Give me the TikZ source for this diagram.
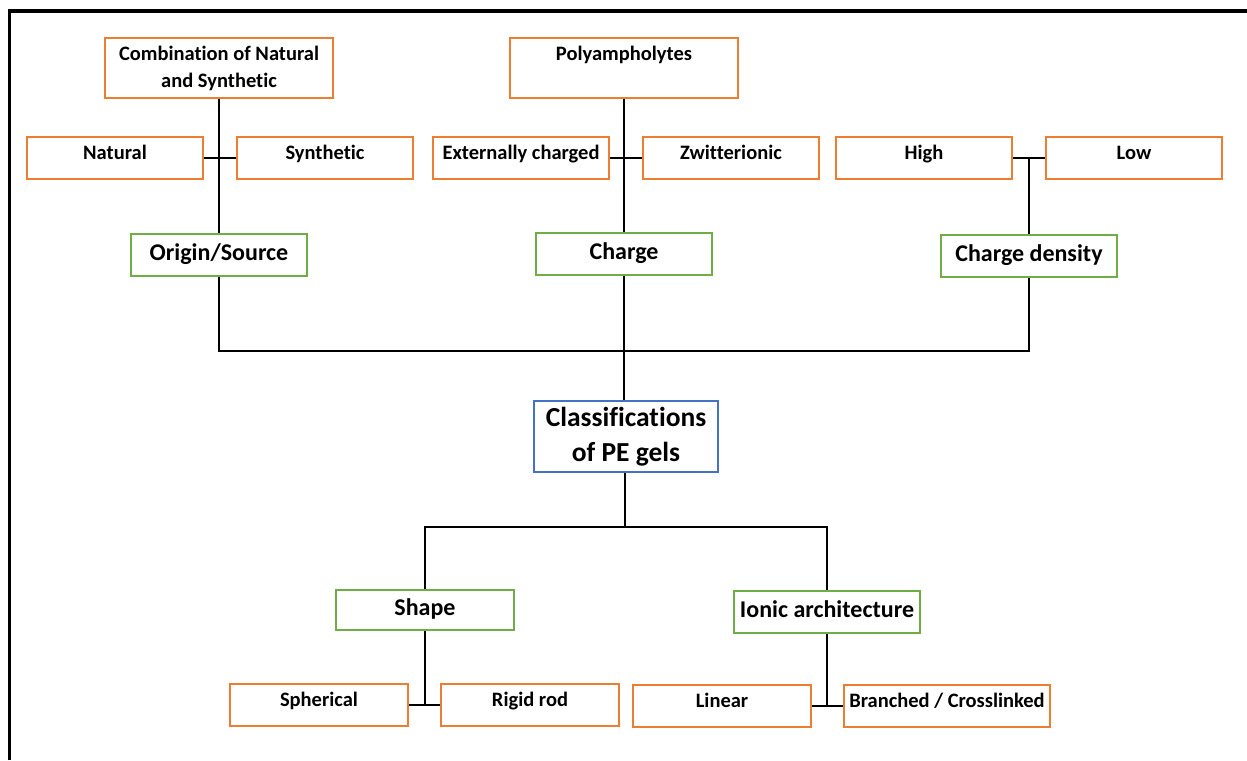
\documentclass[tikz,border=0pt]{standalone}
\usepackage{fontspec}
\setmainfont{Carlito}[Ligatures=NoCommon]
\usetikzlibrary{calc}
\definecolor{boxorange}{HTML}{ED7D31}
\definecolor{boxgreen}{HTML}{70AD47}
\definecolor{boxblue}{HTML}{4472C4}
\begin{document}
\begin{tikzpicture}[x=1pt,y=-1pt,
  base/.style={draw,rectangle,inner sep=0pt,line width=2pt,fill=white,align=center,font=\bfseries\fontsize{20.5}{27}\selectfont},
  leaf/.style={base,draw=boxorange,minimum width=176pt,minimum height=42pt,text height=12pt,text depth=9pt},
  topbox/.style={base,draw=boxorange,minimum width=228pt,minimum height=59pt},
  cat/.style={base,draw=boxgreen,minimum width=176pt,minimum height=41pt,text height=16pt,text depth=6pt,font=\bfseries\fontsize{24}{28}\selectfont},
  root/.style={base,draw=boxblue,minimum width=184pt,minimum height=71pt,font=\bfseries\fontsize{27.5}{35}\selectfont},
  conn/.style={draw=black,line width=1.6pt}
]
\useasboundingbox (0,0) rectangle (1247,760);
\draw[line width=3.5pt] (9.5,760) -- (9.5,11) -- (1247,11);

% top left group
\node[topbox] (comb) at (219,68) {Combination of Natural\\and Synthetic};
\node[leaf] (nat) at (115,158) {Natural};
\node[leaf] (syn) at (325,158) {Synthetic};
\node[cat,minimum height=42pt] (orig) at (219,255) {Origin/Source};

% top middle group
\node[topbox,text height=14pt,text depth=29pt] (poly) at (624,68) {Polyampholytes};
\node[leaf] (ext) at (521,158) {Externally charged};
\node[leaf] (zwit) at (731,158) {Zwitterionic};
\node[cat,minimum height=42pt] (charge) at (624,254) {Charge};

% top right group
\node[leaf] (high) at (924,158) {High};
\node[leaf] (low) at (1134,158) {Low};
\node[cat,minimum height=42pt] (cdens) at (1029,256) {Charge density};

% root
\node[root] (cls) at (626,436.5) {Classifications\\of PE gels};

% bottom
\node[cat,minimum width=178pt,minimum height=40pt] (shape) at (425,610) {Shape};
\node[cat,minimum width=186pt,minimum height=42pt] (ionic) at (827,612) {Ionic architecture};
\node[leaf,minimum width=178pt] (sph) at (319,705) {Spherical};
\node[leaf,minimum width=178pt] (rod) at (530,705) {Rigid rod};
\node[leaf,minimum width=178pt] (lin) at (722,706) {Linear};
\node[leaf,minimum width=206pt] (bran) at (947,706) {Branched / Crosslinked};

% connectors top
\draw[conn] (comb.south) -- (orig.north);
\draw[conn] (nat.east) -- (syn.west);
\draw[conn] (poly.south) -- (charge.north);
\draw[conn] (ext.east) -- (zwit.west);
\draw[conn] (high.east) -- (low.west);
\coordinate (hl) at ($(high.east)!0.5!(low.west)$);
\draw[conn] (hl) -- (hl |- cdens.north);

% bus to root
\coordinate (busl) at (219,351);
\draw[conn] (orig.south) -- (busl) -- (busl -| cdens.south) -- (cdens.south);
\draw[conn] (charge.south) -- (charge.south |- cls.north);

% root to bottom
\coordinate (bus2) at (625,527);
\draw[conn] (bus2 |- cls.south) -- (bus2);
\draw[conn] (shape.north) -- (shape.north |- bus2) -- (ionic.north |- bus2) -- (ionic.north);

\coordinate (sr) at ($(sph.east)!0.5!(rod.west)$);
\draw[conn] (sph.east) -- (rod.west);
\draw[conn] (shape.south) -- (shape.south |- sr);
\coordinate (lb) at ($(lin.east)!0.5!(bran.west)$);
\draw[conn] (lin.east) -- (bran.west);
\draw[conn] (ionic.south) -- (ionic.south |- lb);
\end{tikzpicture}
\end{document}
